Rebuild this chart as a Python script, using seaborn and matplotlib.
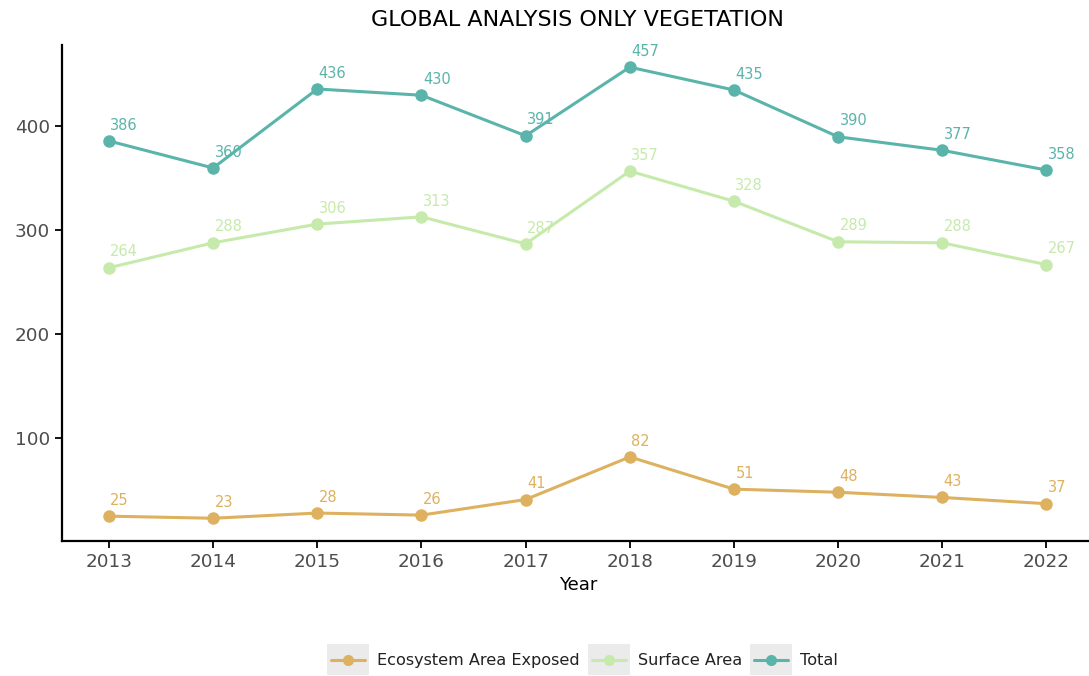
import pandas as pd
import matplotlib.pyplot as plt
import seaborn as sns
from matplotlib.patches import Rectangle
from matplotlib.lines import Line2D
from matplotlib.legend_handler import HandlerBase

# data
years = [2013, 2014, 2015, 2016, 2017, 2018, 2019, 2020, 2021, 2022]
ecosystem = [25, 23, 28, 26, 41, 82, 51, 48, 43, 37]
surface = [264, 288, 306, 313, 287, 357, 328, 289, 288, 267]
total = [386, 360, 436, 430, 391, 457, 435, 390, 377, 358]

series_names = ["Ecosystem Area Exposed", "Surface Area", "Total"]
colors = {"Ecosystem Area Exposed": "#DDB15F",
          "Surface Area": "#C6EAAB",
          "Total": "#5AB4AA"}

df = pd.DataFrame({
    "Year": years * 3,
    "value": ecosystem + surface + total,
    "series": [s for s in series_names for _ in years],
})


# ggplot-like legend key: grey square with a line + point on it
class BoxLineHandler(HandlerBase):
    def create_artists(self, legend, orig_handle, xdescent, ydescent,
                       width, height, fontsize, trans):
        box = Rectangle((-xdescent, -ydescent), width, height,
                        facecolor="#EBEBEB", edgecolor="none", transform=trans)
        y = -ydescent + height / 2
        ln = Line2D([-xdescent + width * 0.1, -xdescent + width * 0.9], [y, y],
                    color=orig_handle.get_color(), linewidth=2.2, transform=trans)
        pt = Line2D([-xdescent + width / 2], [y], color=orig_handle.get_color(),
                    marker="o", markersize=8, markeredgewidth=0, transform=trans)
        return [box, ln, pt]


sns.set_style("ticks")
plt.rcParams['font.family'] = ['DejaVu Sans']

fig, ax = plt.subplots(figsize=(10.89, 6.76), dpi=100)
fig.subplots_adjust(left=0.057, right=1.004, top=0.934, bottom=0.2)

sns.lineplot(data=df, x="Year", y="value", hue="series", hue_order=series_names,
             palette=colors, marker="o", markersize=9, markeredgewidth=0,
             linewidth=2.2, legend=False, ax=ax)

# value labels
for _, row in df.iterrows():
    ax.annotate(f"{row['value']}", (row["Year"], row["value"]),
                xytext=(1, 6), textcoords="offset points",
                ha="left", va="bottom", fontsize=10.5,
                color=colors[row["series"]])

ax.set_xlim(2012.55, 2022.45)
ax.set_ylim(1.3, 478.7)
ax.set_xticks(years)
ax.set_yticks([100, 200, 300, 400])
ax.tick_params(axis="both", labelsize=13.2, labelcolor="#4D4D4D",
               color="black", width=1.3, length=5)
for sp in ["left", "bottom"]:
    ax.spines[sp].set_linewidth(1.6)
    ax.spines[sp].set_color("black")
sns.despine(ax=ax)

ax.set_xlabel("Year", fontsize=13, color="black")
ax.set_ylabel("")
fig.suptitle("GLOBAL ANALYSIS ONLY VEGETATION", fontsize=16, x=0.53, y=0.985,
             color="black")

handles = [Line2D([], [], color=colors[n]) for n in series_names]
fig.legend(handles, series_names, handler_map={Line2D: BoxLineHandler()},
           loc="center", bbox_to_anchor=(0.535, 0.024), ncol=3, frameon=False,
           fontsize=11.6, handlelength=2.6, handleheight=2.6, columnspacing=0.5,
           handletextpad=0.5, labelcolor="#222222")

fig.savefig("out.png", dpi=100)
